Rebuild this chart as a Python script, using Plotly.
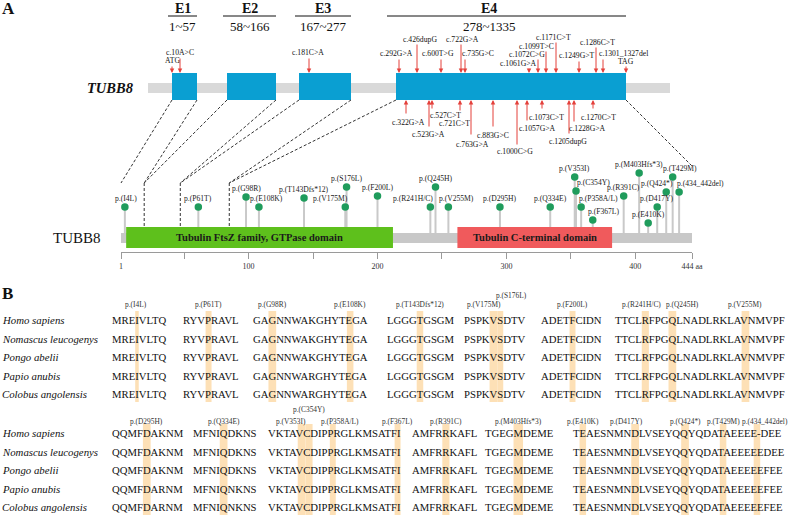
import plotly.graph_objects as go

# ================= DATA =================
exon_names = ["E1", "E2", "E3", "E4"]
exon_nt_start = [1, 58, 167, 278]
exon_nt_end = [57, 166, 277, 1335]
# schematic (not to scale) positions of the exons on the gene drawing
exon_map_start = [172, 227, 299, 396]
exon_map_end = [197, 276, 351, 626]
gene_map_span = [148, 670]

upper_labels = ["ATG", "c.10A>C", "c.181C>A", "c.292G>A", "c.426dupG", "c.600T>G", "c.722G>A",
                "c.735G>C", "c.1061G>A", "c.1072C>G", "c.1099T>C", "c.1171C>T", "c.1249G>T",
                "c.1286C>T", "c.1301_1327del", "TAG"]
upper_map_pos = [172, 180, 309, 399, 417, 441, 461, 465, 529, 538, 546, 556, 579, 596, 603, 626]
lower_labels = ["c.322G>A", "c.523G>A", "c.527C>T", "c.721C>T", "c.763G>A", "c.883G>C",
                "c.1000C>G", "c.1057G>A", "c.1073C>T", "c.1205dupG", "c.1228G>A", "c.1270C>T"]
lower_map_pos = [406, 429, 432, 460, 471, 493, 517, 527, 542, 569, 574, 593]

protein_name = "TUBB8"
protein_length = 444
domain_names = ["Tubulin FtsZ family, GTPase domain", "Tubulin C-terminal domain"]
domain_start = [5, 262]
domain_end = [212, 382]
exon_aa_boundaries = [1, 19, 47, 85, 444]
axis_ticks = [1, 50, 100, 150, 200, 250, 300, 350, 400, 444]
axis_tick_labels = ["1", "", "100", "", "200", "", "300", "", "400", "444 aa"]

variant_aa = [4, 61, 98, 108, 143, 175, 176, 200, 241, 245, 255, 295, 334, 353, 354, 358,
              367, 391, 403, 410, 417, 424, 429, 434]
variant_labels = ["p.(I4L)", "p.(P61T)", "p.(G98R)", "p.(E108K)", "p.(T143Dfs*12)", "p.(V175M)",
                  "p.(S176L)", "p.(F200L)", "p.(R241H/C)", "p.(Q245H)", "p.(V255M)", "p.(D295H)",
                  "p.(Q334E)", "p.(V353I)", "p.(C354Y)", "p.(P358A/L)", "p.(F367L)", "p.(R391C)",
                  "p.(M403Hfs*3)", "p.(E410K)", "p.(D417Y)", "p.(Q424*)", "p.(T429M)",
                  "p.(434_442del)"]
variant_height = [31, 31, 41, 31, 40, 31, 51, 42, 31, 51, 31, 31, 31, 61, 47, 31, 18, 42, 65,
                  15, 31, 46, 61, 46]

species = ["Homo sapiens", "Nomascus leucogenys", "Pongo abelii", "Papio anubis",
           "Colobus angolensis"]
block1_first_residue = [1, 58, 96, 139, 171, 196, 237]
_b1_hom = ["MREIVLTQ", "RYVPRAVL", "GAGNNWAKGHYTEGA", "LGGGTGSGM", "PSPKVSDTV", "ADETFCIDN",
           "TTCLRFPGQLNADLRKLAVNMVPF"]
_b1_old = ["MREIVLTQ", "RYVPRAVL", "GAGNNWARGHYTEGA", "LGGGTGSGM", "PSPKVSDTV", "ADETFCIDN",
           "TTCLRFPGQLNADLRKLAVNMVPF"]
block1_seqs = [_b1_hom, _b1_hom, _b1_hom, _b1_old, _b1_old]
block2_first_residue = [291, 330, 349, 387, 399, 409]
block2_seqs = [
    ["QQMFDAKNM", "MFNIQDKNS", "VKTAVCDIPPRGLKMSATFI", "AMFRRKAFL", "TGEGMDEME",
     "TEAESNMNDLVSEYQQYQDATAEEEE-DEE"],
    ["QQMFDAKNM", "MFNIQDKNS", "VKTAVCDIPPRGLKMSATFI", "AMFRRKAFL", "TGEGMDEME",
     "TEAESNMNDLVSEYQQYQDATAEEEEEDEE"],
    ["QQMFDAKNM", "MFNIQDKNS", "VKTAVCDIPPRGLKMSATFI", "AMFRRKAFL", "TGEGMDEME",
     "TEAESNMNDLVSEYQQYQDATAEEEEEFEE"],
    ["QQMFDARNM", "MFNIQNKNS", "VKTAVCDIPPRGLKMSATFI", "AMFRRKAFL", "TGEGMDEME",
     "TEAESNMNDLVSEYQQYQDATAEEEEEFEE"],
    ["QQMFDARNM", "MFNIQNKNS", "VKTAVCDIPPRGLKMSATFI", "AMFRRKAFL", "TGEGMDEME",
     "TEAESNMNDLVSEYQQYQDATAEEEEEFEE"],
]

# ================= STYLE / LAYOUT =================
W, H = 788, 526
SERIF = "Liberation Serif, Times New Roman, serif"
EXON_BLUE = "#0a9fd2"
ARROW_RED = "#e4403b"
GREEN_DOM = "#5ec01c"
RED_DOM = "#f05a5c"
HEAD_GREEN = "#1f9c5c"
STEM_GRAY = "#c9c9c9"
HILITE = "#fde0b6"

PX_L, PX_R = 121, 692         # protein ruler pixel extent
RULER_Y = 252
Y2_TOP, Y2_BOT = 160, 250     # lollipop axis pixel extent
Y2_RANGE = [-12, 78]

upper_tail = [65, 57, 57, 58, 43, 58, 43, 58, 67, 58, 50, 41, 60, 46, 58, 65]
upper_lab_x = [172, 180, 308, 396, 420, 438, 462, 478, 518, 527, 536, 553, 577, 597, 623, 626]
upper_lab_y = [60, 52, 52, 53, 39, 53, 39, 53, 63, 54, 46, 37, 55, 42, 53, 61]
lower_tail = [115, 128, 110, 112, 136, 128, 146, 122, 110, 135, 123, 110]
lower_lab_x = [408, 428, 445, 454, 472, 493, 515, 537, 546, 568, 587, 598]
lower_lab_y = [122, 134, 115, 123, 144, 135, 151, 128, 117, 141, 128, 117]
EX_TOP, EX_BOT = 73, 100
GENE_TOP, GENE_BOT = 83, 93

lolli_label_dx = {"p.(I4L)": 1, "p.(E108K)": 8, "p.(V175M)": -15, "p.(R241H/C)": -17,
                  "p.(V255M)": 8, "p.(C354Y)": 17, "p.(P358A/L)": 17, "p.(F367L)": 11,
                  "p.(Q424*)": -9, "p.(T429M)": 7, "p.(434_442del)": 21}

seg_x1 = [112, 183, 253, 387, 464, 541, 615]
seg_x2 = [112, 193, 268, 412, 485, 573]
row_y1 = [320, 338.5, 357, 375.5, 394]
row_y2 = [433, 451.5, 470, 488.5, 507]
SEQ_SIZE = 10.7
align_label_dx = {"p.(I4L)": -1, "p.(V175M)": -9, "p.(S176L)": 11, "p.(R241H/C)": -4,
                  "p.(Q245H)": 10, "p.(V353I)": -11, "p.(P358A/L)": 7, "p.(D417Y)": -9,
                  "p.(434_442del)": 8}
align_label_y = {1: 304, 2: 421}
align_label_y_special = {"p.(S176L)": 295, "p.(C354Y)": 409}

# Times glyph widths (1/1000 em)
TW = {'A': 722, 'B': 667, 'C': 667, 'D': 722, 'E': 611, 'F': 556, 'G': 722, 'H': 722, 'I': 333,
      'J': 389, 'K': 722, 'L': 611, 'M': 889, 'N': 722, 'O': 722, 'P': 556, 'Q': 722, 'R': 667,
      'S': 556, 'T': 611, 'U': 722, 'V': 722, 'W': 944, 'X': 722, 'Y': 722, 'Z': 611, '-': 333}


def tw(s, size=SEQ_SIZE):
    return sum(TW.get(c, 500) for c in s) / 1000.0 * size


def aa_px(aa):
    return PX_L + (aa - 1) * (PX_R - PX_L) / (protein_length - 1)


def y2_px(v):
    return Y2_BOT - (v - Y2_RANGE[0]) * (Y2_BOT - Y2_TOP) / (Y2_RANGE[1] - Y2_RANGE[0])


fig = go.Figure()
shapes = []
ann = []


def text(x, y, s, size, xref="x", yref="y", xanchor="center", color="#111", **kw):
    ann.append(dict(x=x, y=y, xref=xref, yref=yref, text=s, showarrow=False,
                    xanchor=xanchor, yanchor="middle", borderpad=0, borderwidth=0,
                    font=dict(family=SERIF, size=size, color=color), **kw))


# ---------- panel labels ----------
text(2, 8, "<b>A</b>", 17, xanchor="left")
text(2, 293, "<b>B</b>", 17, xanchor="left")

# ---------- gene structure ----------
shapes.append(dict(type="rect", xref="x", yref="y", x0=gene_map_span[0], x1=gene_map_span[1],
                   y0=GENE_TOP, y1=GENE_BOT, fillcolor="#d9d9d9", line=dict(width=0),
                   layer="below"))
for i, nm in enumerate(exon_names):
    x0, x1 = exon_map_start[i], exon_map_end[i]
    shapes.append(dict(type="rect", xref="x", yref="y", x0=x0, x1=x1, y0=EX_TOP, y1=EX_BOT,
                       fillcolor=EXON_BLUE, line=dict(width=0), layer="below"))
    lx0 = x0 - (9 if i == 3 else 4)
    shapes.append(dict(type="line", xref="x", yref="y", x0=lx0, x1=x1, y0=16, y1=16,
                       line=dict(color="#111", width=1)))
    cx = (lx0 + x1) / 2 if i < 3 else 489
    text(cx, 8, "<b>%s</b>" % nm, 14)
    text(cx, 26, "%d~%d" % (exon_nt_start[i], exon_nt_end[i]), 13)
text(110, 88, "<b><i>TUBB8</i></b>", 14.5)

for i, lab in enumerate(upper_labels):
    x = upper_map_pos[i]
    ann.append(dict(x=x, y=EX_TOP, xref="x", yref="y", ax=x, ay=upper_tail[i], axref="x",
                    ayref="y", text="", showarrow=True, arrowhead=2, arrowsize=0.9,
                    arrowwidth=1, arrowcolor=ARROW_RED, standoff=0))
    text(upper_lab_x[i], upper_lab_y[i], lab, 7.7)
for i, lab in enumerate(lower_labels):
    x = lower_map_pos[i]
    ann.append(dict(x=x, y=EX_BOT, xref="x", yref="y", ax=x, ay=lower_tail[i], axref="x",
                    ayref="y", text="", showarrow=True, arrowhead=2, arrowsize=0.9,
                    arrowwidth=1, arrowcolor=ARROW_RED, standoff=0))
    text(lower_lab_x[i], lower_lab_y[i], lab, 7.7)

# ---------- dashed connectors gene -> protein ----------
DASH = dict(color="#333", width=1, dash="3px,2px")
CONN_Y = 183
bar_top_px = y2_px(11)
for i in range(4):
    a0, a1 = exon_aa_boundaries[i], exon_aa_boundaries[i + 1]
    shapes.append(dict(type="line", xref="x", yref="y", x0=exon_map_start[i], y0=EX_BOT,
                       x1=aa_px(a0), y1=CONN_Y, line=DASH))
    end_y = CONN_Y if i < 3 else 166
    shapes.append(dict(type="line", xref="x", yref="y", x0=exon_map_end[i], y0=EX_BOT,
                       x1=aa_px(a1), y1=end_y, line=DASH))
    if i < 3:
        shapes.append(dict(type="line", xref="x", yref="y", x0=aa_px(a1), y0=CONN_Y,
                           x1=aa_px(a1), y1=bar_top_px, line=DASH))

# ---------- protein lollipop ----------
shapes.append(dict(type="rect", xref="x2", yref="y2", x0=1, x1=protein_length, y0=-5, y1=5,
                   fillcolor="#c8c8c8", line=dict(width=0), layer="below"))
dom_cols = [GREEN_DOM, RED_DOM]
for i, nm in enumerate(domain_names):
    shapes.append(dict(type="rect", xref="x2", yref="y2", x0=domain_start[i], x1=domain_end[i],
                       y0=-10, y1=11, fillcolor=dom_cols[i], line=dict(width=0), layer="below"))
    text((domain_start[i] + domain_end[i]) / 2, 0, "<b>%s</b>" % nm, 10.5, xref="x2",
         yref="y2", color="#1a1a1a")
text(77, 238, protein_name, 15)

sx, sy = [], []
for a, h in zip(variant_aa, variant_height):
    in_dom = any(s <= a <= e for s, e in zip(domain_start, domain_end))
    sx += [a, a, None]
    sy += [11 if in_dom else 5, h, None]
fig.add_trace(go.Scatter(x=sx, y=sy, xaxis="x2", yaxis="y2", mode="lines",
                         line=dict(color=STEM_GRAY, width=2), hoverinfo="skip",
                         cliponaxis=False))
fig.add_trace(go.Scatter(x=variant_aa, y=variant_height, xaxis="x2", yaxis="y2", mode="markers",
                         marker=dict(color=HEAD_GREEN, size=7.5), text=variant_labels,
                         hoverinfo="text", cliponaxis=False))
for a, h, lab in zip(variant_aa, variant_height, variant_labels):
    ann.append(dict(x=a, y=h, xref="x2", yref="y2", text=lab, showarrow=False,
                    xanchor="center", yanchor="middle", yshift=8,
                    xshift=lolli_label_dx.get(lab, 0), borderpad=0, borderwidth=0,
                    font=dict(family=SERIF, size=7.6, color="#222")))

# ---------- panel B alignment ----------
def draw_block(first_res, seqs, seg_x, row_y, block_id):
    for r, sp in enumerate(species):
        text(2, row_y[r], "<i>%s</i>" % sp, 10.8, xanchor="left")
        for k, seg in enumerate(seqs[r]):
            text(seg_x[k], row_y[r], seg, SEQ_SIZE, xanchor="left", color="#111")
    ref = seqs[0]
    lo, hi = first_res[0], first_res[-1] + len(ref[-1])
    for a, lab in zip(variant_aa, variant_labels):
        if not (lo <= a < hi):
            continue
        k = max(i for i in range(len(first_res)) if first_res[i] <= a)
        idx = a - first_res[k]
        x0 = seg_x[k] + tw(ref[k][:idx])
        x1 = x0 + tw(ref[k][idx])
        shapes.append(dict(type="rect", xref="x", yref="y", x0=x0, x1=x1,
                           y0=row_y[0] - 9, y1=row_y[-1] + 8, fillcolor=HILITE,
                           line=dict(width=0), layer="below"))
        ly = align_label_y_special.get(lab, align_label_y[block_id])
        text((x0 + x1) / 2 + align_label_dx.get(lab, 0), ly, lab, 7.4, color="#333")


draw_block(block1_first_residue, block1_seqs, seg_x1, row_y1, 1)
draw_block(block2_first_residue, block2_seqs, seg_x2, row_y2, 2)

fig.update_layout(
    width=W, height=H, margin=dict(l=0, r=0, t=0, b=0, autoexpand=False),
    paper_bgcolor="white", plot_bgcolor="white", showlegend=False,
    xaxis=dict(domain=[0, 1], range=[0, W], visible=False, fixedrange=True),
    yaxis=dict(domain=[0, 1], range=[H, 0], visible=False, fixedrange=True),
    xaxis2=dict(domain=[PX_L / W, PX_R / W], range=[1, protein_length], anchor="free",
                position=1 - RULER_Y / H, showline=True, linecolor="#9a9a9a", linewidth=1,
                ticks="outside", ticklen=6, tickcolor="#9a9a9a", tickwidth=1,
                tickvals=axis_ticks, ticktext=axis_tick_labels, showgrid=False, zeroline=False,
                tickfont=dict(family=SERIF, size=8, color="#333"), fixedrange=True),
    yaxis2=dict(domain=[1 - Y2_BOT / H, 1 - Y2_TOP / H], range=Y2_RANGE, anchor="x2",
                visible=False, fixedrange=True),
    shapes=shapes, annotations=ann,
)
fig.write_html("out.html", config={"displayModeBar": False},
               post_script="document.body.style.margin='0';"
                           "document.body.style.overflow='hidden';")
